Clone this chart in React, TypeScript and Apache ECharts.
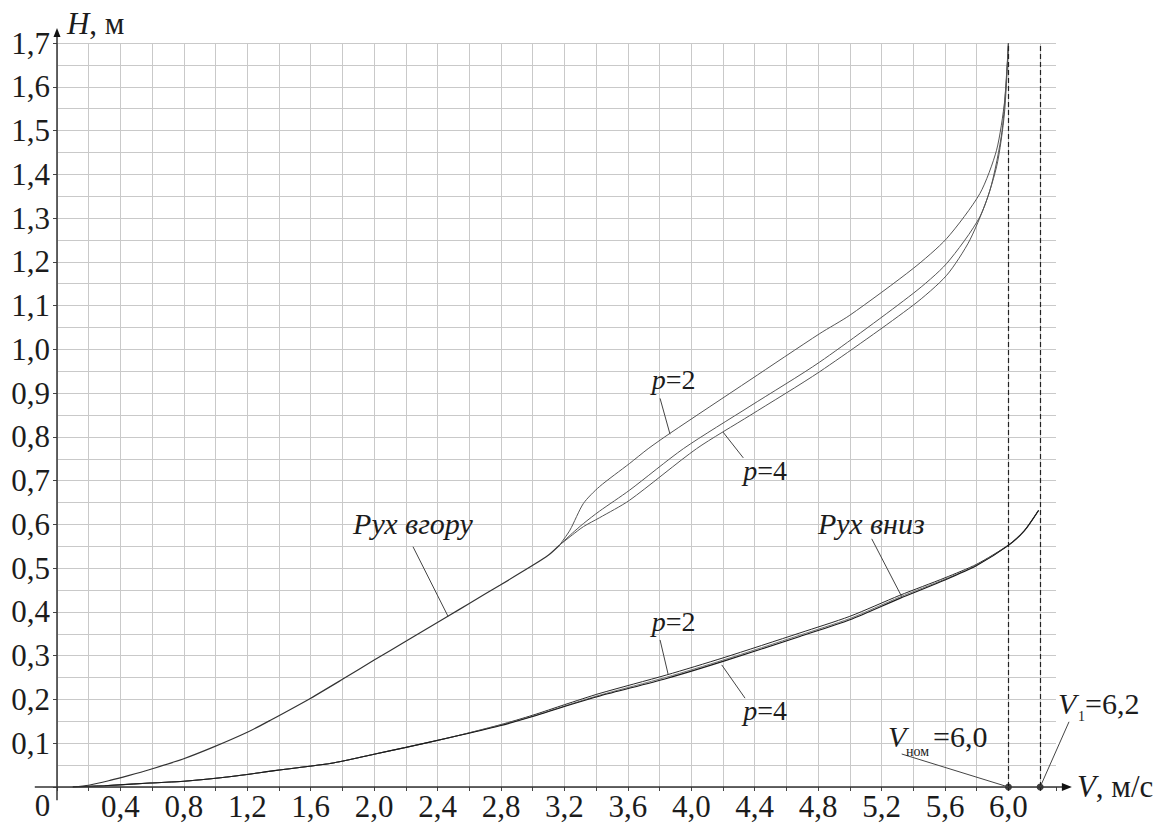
import React, { useEffect, useRef } from "react";
import * as echarts from "echarts";

// ---- data ----
// common part of the "up" motion curve (V, м/с ; H, м)
const upCommonV = [0.1, 0.2, 0.334, 0.45, 0.586, 0.795, 0.985, 1.2, 1.343, 1.6, 1.8, 2.0, 2.205, 2.465, 2.6, 2.793, 3.003, 3.1, 3.17];
const upCommonH = [0.0, 0.004, 0.015, 0.026, 0.04, 0.064, 0.091, 0.125, 0.152, 0.203, 0.246, 0.29, 0.334, 0.39, 0.4195, 0.461, 0.507, 0.53, 0.553];

// branches after the split (p = 2, middle, p = 4)
const upP2V = [3.17, 3.235, 3.32, 3.42, 3.61, 3.728, 3.865, 4.37, 4.81, 5.0, 5.4, 5.61, 5.82, 5.925, 5.977, 6.0];
const upP2H = [0.553, 0.587, 0.648, 0.686, 0.739, 0.773, 0.808, 0.93, 1.036, 1.078, 1.185, 1.253, 1.356, 1.455, 1.57, 1.7];
const upP3V = [3.17, 3.25, 3.32, 3.42, 3.61, 3.95, 4.37, 4.81, 5.4, 5.61, 5.82, 5.925, 5.975, 6.0];
const upP3H = [0.553, 0.58, 0.602, 0.63, 0.678, 0.773, 0.87, 0.971, 1.128, 1.196, 1.303, 1.417, 1.54, 1.7];
const upP4V = [3.17, 3.25, 3.32, 3.42, 3.61, 4.033, 4.37, 4.81, 5.4, 5.61, 5.757, 5.883, 5.96, 6.0];
const upP4H = [0.553, 0.576, 0.595, 0.615, 0.655, 0.773, 0.849, 0.949, 1.101, 1.169, 1.25, 1.363, 1.5, 1.7];

// "down" motion curves
const downV = [0.1, 0.3, 0.586, 0.8, 1.1, 1.385, 1.742, 2.0, 2.194, 2.478, 2.793, 3.0, 3.2, 3.424, 3.844, 4.2, 4.685, 5.0, 5.315, 5.6, 5.8, 6.0, 6.1, 6.19];
const downP2H = [0.0, 0.003, 0.009, 0.013, 0.024, 0.038, 0.055, 0.075, 0.09, 0.113, 0.142, 0.164, 0.188, 0.214, 0.256, 0.295, 0.352, 0.39, 0.438, 0.478, 0.509, 0.553, 0.586, 0.632];
const downP3H = [0.0, 0.003, 0.009, 0.013, 0.024, 0.038, 0.055, 0.075, 0.09, 0.113, 0.141, 0.162, 0.185, 0.21, 0.251, 0.29, 0.347, 0.385, 0.434, 0.475, 0.507, 0.552, 0.585, 0.632];
const downP4H = [0.0, 0.003, 0.009, 0.013, 0.024, 0.038, 0.055, 0.075, 0.09, 0.113, 0.14, 0.161, 0.184, 0.208, 0.248, 0.287, 0.344, 0.382, 0.431, 0.473, 0.506, 0.552, 0.585, 0.632];

// marked speeds
const markedSpeeds = [6.0, 6.2];

const FONT = "Liberation Serif";
const INK = "#1c1c1c";

const pairs = (xs: number[], ys: number[]) => xs.map((x, i) => [x, ys[i]]);

export default function App() {
  const ref = useRef<HTMLDivElement>(null);

  useEffect(() => {
    if (!ref.current) return;
    const chart = echarts.init(ref.current, null, { renderer: "svg" });

    const line = (data: number[][], color: string, width: number) => ({
      type: "line",
      data,
      symbol: "none",
      showSymbol: false,
      smooth: 0.25,
      silent: true,
      lineStyle: { color, width },
      z: 4,
    });

    const gridColor = "#c9c9c9";

    const option: any = {
      animation: false,
      backgroundColor: "#ffffff",
      textStyle: { fontFamily: FONT },
      grid: { left: 57, top: 43, right: 112, bottom: 36, containLabel: false },
      xAxis: {
        type: "value",
        min: 0,
        max: 6.3,
        interval: 0.2,
        axisLine: { show: false },
        axisTick: { show: true, length: 4, lineStyle: { color: "#444", width: 1 } },
        axisLabel: {
          margin: 4,
          fontFamily: FONT,
          fontSize: 31,
          color: INK,
          formatter: (v: number) => {
            const k = Math.round(v * 10);
            if (k <= 0 || k > 60 || k % 4 !== 0) return "";
            return (k / 10).toFixed(1).replace(".", ",");
          },
        },
        splitLine: { show: true, showMaxLine: false, lineStyle: { color: gridColor, width: 1 } },
      },
      yAxis: {
        type: "value",
        min: 0,
        max: 1.7,
        interval: 0.1,
        axisLine: { show: false },
        axisTick: { show: true, length: 4, lineStyle: { color: "#444", width: 1 } },
        minorTick: { show: false, splitNumber: 2 },
        minorSplitLine: { show: true, lineStyle: { color: gridColor, width: 1 } },
        axisLabel: {
          margin: 7,
          fontFamily: FONT,
          fontSize: 31,
          color: INK,
          formatter: (v: number) => (v <= 0.001 ? "" : v.toFixed(1).replace(".", ",")),
        },
        splitLine: { show: true, lineStyle: { color: gridColor, width: 1 } },
      },
      series: [
        line(pairs(upCommonV, upCommonH), "#333", 1.2),
        line(pairs(upP2V, upP2H), "#555", 1),
        line(pairs(upP3V, upP3H), "#555", 1),
        line(pairs(upP4V, upP4H), "#555", 1),
        line(pairs(downV, downP2H), "#2a2a2a", 1),
        line(pairs(downV, downP3H), "#777", 1),
        line(pairs(downV, downP4H), "#1a1a1a", 1.1),
        {
          type: "scatter",
          data: markedSpeeds.map((v) => [v, 0]),
          symbolSize: 7,
          itemStyle: { color: "#111" },
          clip: false,
          silent: true,
          z: 10,
          markLine: {
            silent: true,
            symbol: ["none", "none"],
            label: { show: false },
            lineStyle: { type: [5, 3], color: "#222", width: 1.2 },
            data: markedSpeeds.map((v) => ({ xAxis: v })),
          },
        },
      ],
    };

    chart.setOption(option);

    const P = (x: number, y: number) => chart.convertToPixel({ gridIndex: 0 }, [x, y]) as number[];

    const text = (pos: number[], t: string, size: number, italic: boolean, align = "left", extra: any = {}) => ({
      type: "text",
      x: pos[0],
      y: pos[1],
      silent: true,
      z: 50,
      style: {
        text: t,
        fill: INK,
        fontFamily: FONT,
        fontSize: size,
        fontStyle: italic ? "italic" : "normal",
        align,
        textAlign: align,
        verticalAlign: "middle",
        textVerticalAlign: "middle",
        ...extra,
      },
    });

    const mixed = (pos: number[], first: string, rest: string, size: number) =>
      text(pos, `{i|${first}}{n|${rest}}`, size, false, "left", {
        rich: {
          i: { fontFamily: FONT, fontSize: size, fontStyle: "italic", fill: INK },
          n: { fontFamily: FONT, fontSize: size, fill: INK },
        },
      });

    const leader = (a: number[], b: number[]) => {
      const p1 = P(a[0], a[1]);
      const p2 = P(b[0], b[1]);
      return {
        type: "line",
        silent: true,
        z: 40,
        shape: { x1: p1[0], y1: p1[1], x2: p2[0], y2: p2[1] },
        style: { stroke: "#444", lineWidth: 1 },
      };
    };

    // axes with arrows
    const xa0 = P(-0.14, 0);
    const xa1 = P(6.4, 0);
    const ya0 = P(0, -0.03);
    const ya1 = P(0, 1.734);

    const vNom = P(5.241, 0.1165);
    const v1 = P(6.313, 0.19);

    const graphic: any[] = [
      {
        type: "line",
        silent: true,
        z: 30,
        shape: { x1: xa0[0], y1: xa0[1], x2: xa1[0] - 8, y2: xa1[1] },
        style: { stroke: "#333", lineWidth: 1.5 },
      },
      {
        type: "polygon",
        silent: true,
        z: 30,
        shape: { points: [[xa1[0], xa1[1]], [xa1[0] - 10, xa1[1] - 4], [xa1[0] - 10, xa1[1] + 4]] },
        style: { fill: "#111" },
      },
      {
        type: "line",
        silent: true,
        z: 30,
        shape: { x1: ya0[0], y1: ya0[1], x2: ya1[0], y2: ya1[1] + 7 },
        style: { stroke: "#333", lineWidth: 1.5 },
      },
      {
        type: "polygon",
        silent: true,
        z: 30,
        shape: { points: [[ya1[0], ya1[1]], [ya1[0] - 3.5, ya1[1] + 9], [ya1[0] + 3.5, ya1[1] + 9]] },
        style: { fill: "#111" },
      },
      // origin label
      text(P(-0.091, -0.043), "0", 31, false, "center"),
      // axis names
      mixed(P(0.063, 1.744), "H", ", м", 31),
      mixed(P(6.432, 0.002), "V", ", м/с", 31),
      // curve labels
      text(P(1.867, 0.603), "Рух вгору", 30, true),
      leader([2.245, 0.549], [2.466, 0.39]),
      mixed(P(3.75, 0.932), "p", "=2", 28),
      leader([3.803, 0.888], [3.866, 0.806]),
      mixed(P(4.328, 0.724), "p", "=4", 28),
      leader([4.328, 0.752], [4.2, 0.811]),
      text(P(4.799, 0.603), "Рух вниз", 30, true),
      leader([5.138, 0.567], [5.327, 0.435]),
      mixed(P(3.75, 0.378), "p", "=2", 28),
      leader([3.803, 0.336], [3.855, 0.256]),
      mixed(P(4.328, 0.174), "p", "=4", 28),
      leader([4.192, 0.279], [4.339, 0.203]),
      // V nom
      text(vNom, "V", 30, true),
      text([vNom[0] + 18, vNom[1] + 15], "ном", 14, false),
      text([vNom[0] + 45, vNom[1]], "=6,0", 30, false),
      leader([5.327, 0.0754], [6.0, 0]),
      // V1
      text(v1, "V", 30, true),
      text([v1[0] + 20, v1[1] + 13], "1", 14, false),
      text([v1[0] + 27, v1[1]], "=6,2", 30, false),
      leader([6.382, 0.149], [6.2, 0]),
    ];

    chart.setOption({ graphic });

    return () => {
      chart.dispose();
    };
  }, []);

  return (
    <div
      ref={ref}
      style={{ position: "absolute", left: 0, top: 0, width: 1168, height: 823, background: "#fff" }}
    />
  );
}
